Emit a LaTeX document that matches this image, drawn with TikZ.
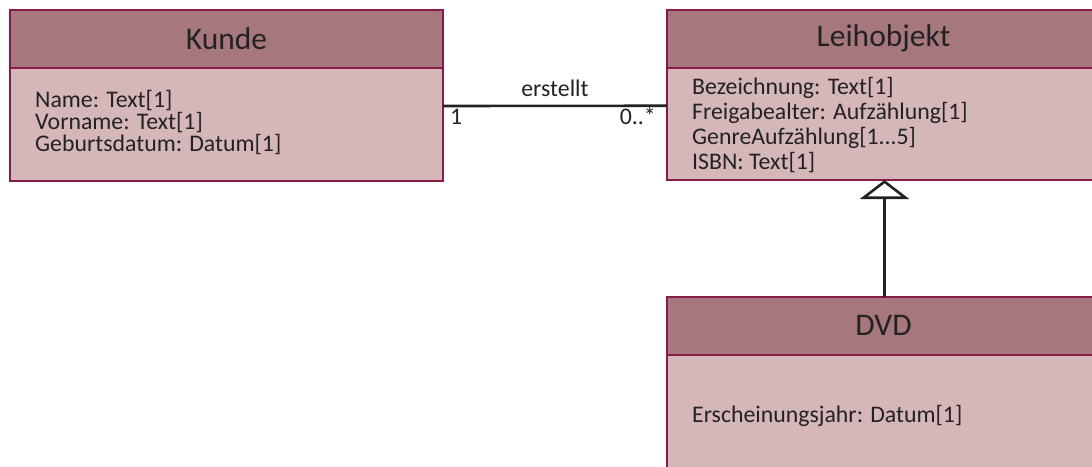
\documentclass[tikz,border=0pt]{standalone}
\usepackage{fontspec}
\setmainfont{Carlito}
\usetikzlibrary{arrows.meta}
\definecolor{hdrfill}{RGB}{166,120,126}
\definecolor{bodyfill}{RGB}{213,182,185}
\definecolor{frame}{RGB}{135,28,72}
\definecolor{ink}{RGB}{34,34,34}
\tikzset{
  classhead/.style={draw=frame, fill=hdrfill, line width=2pt, inner sep=0pt, outer sep=0pt,
    anchor=north west, minimum width=433pt, text=ink, font=\fontsize{31.5}{36}\selectfont},
  classbody/.style={draw=frame, fill=bodyfill, line width=2pt, inner sep=0pt, outer sep=0pt,
    anchor=north west, minimum width=433pt},
  attr/.style={inner sep=0pt, anchor=base west, text=ink, font=\fontsize{23.8}{26}\selectfont},
  multi/.style={inner sep=0pt, text=ink, font=\fontsize{23.8}{26}\selectfont},
  link/.style={draw=ink, line width=2.6pt},
}
\begin{document}
\begin{tikzpicture}[x=1pt,y=-1pt]
  \clip (0,0) rectangle (1092,466);

  % class Kunde
  \node[classhead, minimum height=58pt] (kundeH) at (10,10) {\raisebox{-1pt}{Kunde}};
  \node[classbody, minimum height=113pt] (kundeB) at (kundeH.south west) {};
  \node[attr] (k1) at (35,107.5) {Name: Text[1]};
  \node[attr] (k2) at (35,129.5) {Vorname: Text[1]};
  \node[attr] (k3) at (35,151.5) {Geburtsdatum: Datum[1]};

  % class Leihobjekt
  \node[classhead, minimum height=57.5pt] (leihH) at (667,10) {\raisebox{-1pt}{Leihobjekt}};
  \node[classbody, minimum height=112.5pt] (leihB) at (leihH.south west) {};
  \node[attr] (l1) at (692,94) {Bezeichnung: Text[1]};
  \node[attr] (l2) at (692,119) {Freigabealter: Aufzählung[1]};
  \node[attr] (l3) at (692,144) {GenreAufzählung[1...5]};
  \node[attr] (l4) at (692,169) {ISBN: Text[1]};

  % class DVD
  \node[classhead, minimum height=57.5pt] (dvdH) at (667,297) {\raisebox{-1pt}{DVD}};
  \node[classbody, minimum height=140pt] (dvdB) at (dvdH.south west) {};
  \node[attr] (d1) at (692,422) {Erscheinungsjahr: Datum[1]};

  % association Kunde -- Leihobjekt
  \draw[link] ([yshift=18.5pt]kundeB.east) -- ([yshift=18pt]leihB.west)
    node[pos=0.5, multi, anchor=base, yshift=9pt] (rel) {erstellt};
  \node[multi, anchor=base west] (m1) at (450,124) {1};
  \node[multi, anchor=base east] (m2) at (656,124) {0..*};

  % generalization DVD -> Leihobjekt
  \draw[link, line join=miter, -{Triangle[open, length=19pt, width=49pt, line width=2.6pt]}]
    ([xshift=1pt]dvdH.north) -- ([xshift=1pt]leihB.south);
\end{tikzpicture}
\end{document}
